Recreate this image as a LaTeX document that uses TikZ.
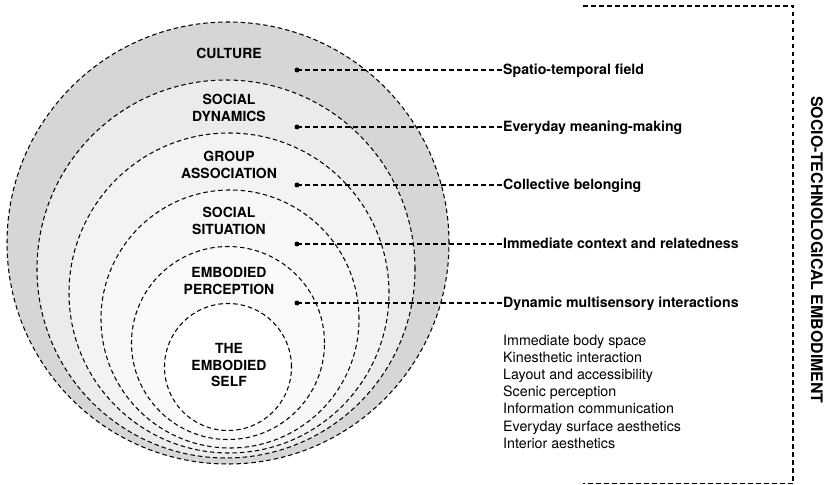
\documentclass[tikz,border=0pt]{standalone}
\usepackage{fontspec}
\setmainfont{TeX Gyre Heros}
\begin{document}
\begin{tikzpicture}[x=1bp,y=-1bp,
  ring/.style={draw=black,line width=1.05bp,dash pattern=on 4.5bp off 3bp},
  conn/.style={draw=black,line width=1.05bp,dash pattern=on 4.5bp off 3.5bp},
  dotnode/.style={circle,fill=black,inner sep=0pt,minimum size=5bp},
  layer/.style={font=\fontsize{14}{17}\selectfont\bfseries,align=center,inner sep=0pt},
  lbl/.style={font=\fontsize{14.2}{17}\selectfont\bfseries,anchor=base west,inner sep=0pt},
  item/.style={font=\fontsize{14.3}{17.2}\selectfont,anchor=base west,inner sep=0pt}]
\useasboundingbox (0,0) rectangle (828,485);
\definecolor{c1}{HTML}{D5D6D6}
\definecolor{c2}{HTML}{EBEBEB}
\definecolor{c3}{HTML}{F3F3F3}
\definecolor{c4}{HTML}{F7F7F7}
\definecolor{c5}{HTML}{FAFAFA}
% circles
\path[ring,fill=c1] (228,243) circle[radius=221bp];
\path[ring,fill=c2] (226,269) circle[radius=189bp];
\path[ring,fill=c3] (229,293) circle[radius=160bp];
\path[ring,fill=c4] (230,319) circle[radius=129bp];
\path[ring,fill=c5] (228,343) circle[radius=96.5bp];
\path[ring,fill=white] (228,367) circle[radius=63.5bp];
% layer labels
\node[layer] (culture) at (229,53) {CULTURE};
\node[layer] (socdyn) at (229,107.5) {SOCIAL\\DYNAMICS};
\node[layer] (group) at (229,164.5) {GROUP\\ASSOCIATION};
\node[layer] (socsit) at (229,221) {SOCIAL\\SITUATION};
\node[layer] (embper) at (229,280.5) {EMBODIED\\PERCEPTION};
\node[layer] (self) at (229,365) {THE\\EMBODIED\\SELF};
% dots
\node[dotnode] (d1) at (297,70) {};
\node[dotnode] (d2) at (297,127) {};
\node[dotnode] (d3) at (297,185) {};
\node[dotnode] (d4) at (297,244) {};
\node[dotnode] (d5) at (297,303) {};
% right labels
\node[lbl] (l1) at (503,74.8) {Spatio-temporal field};
\node[lbl] (l2) at (503,131.8) {Everyday meaning-making};
\node[lbl] (l3) at (503,189.8) {Collective belonging};
\node[lbl] (l4) at (503,248.8) {Immediate context and relatedness};
\node[lbl] (l5) at (503,307.8) {Dynamic multisensory interactions};
\foreach \i in {1,...,5} {\draw[conn] (d\i.center) -- (d\i -| l\i.west);}
% list
\node[item] (i1) at (503,345) {Immediate body space};
\node[item] (i2) at (503,362.2) {Kinesthetic interaction};
\node[item] (i3) at (503,379.4) {Layout and accessibility};
\node[item] (i4) at (503,396.6) {Scenic perception};
\node[item] (i5) at (503,413.8) {Information communication};
\node[item] (i6) at (503,431) {Everyday surface aesthetics};
\node[item] (i7) at (503,448.2) {Interior aesthetics};
% bracket
\coordinate (b1) at (583,6);
\coordinate (b2) at (793,6);
\coordinate (b3) at (793,483.5);
\coordinate (b4) at (583,483.5);
\draw[conn] (b1) -- (b2) -- (b3) -- (b4);
\node[font=\fontsize{16}{18}\selectfont\bfseries,rotate=-90,inner sep=0pt] (ste) at (817,250) {SOCIO-TECHNOLOGICAL EMBODIMENT};
\end{tikzpicture}
\end{document}
